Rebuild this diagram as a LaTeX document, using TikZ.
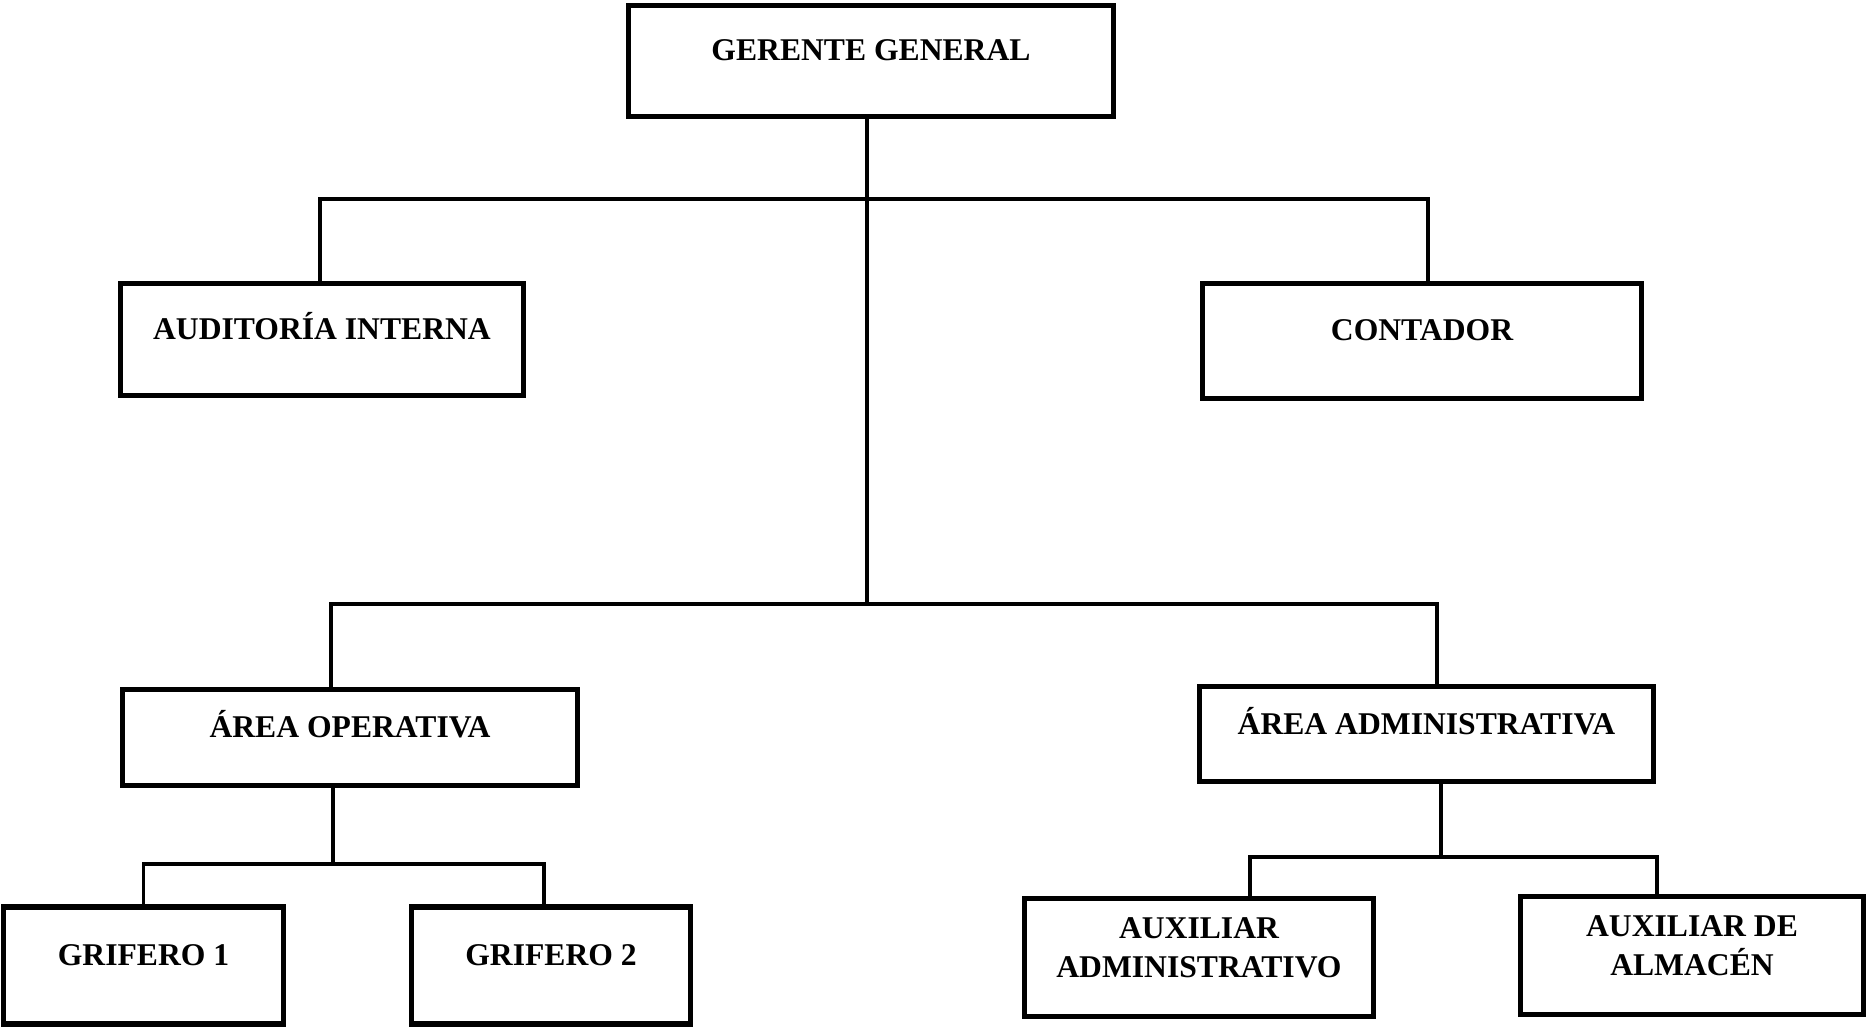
\documentclass[tikz,border=0pt]{standalone}
\usepackage{fontspec}
\setmainfont{Liberation Serif}
\usepackage{tikz}
\usetikzlibrary{positioning}
\pgfdeclarelayer{background}
\pgfdeclarelayer{foreground}
\pgfsetlayers{background,main,foreground}

\begin{document}
\begin{tikzpicture}[
				orgbox/.style={rectangle, draw=black, line width=0.055cm, fill=white, inner sep=0pt,
					font=\bfseries\fontsize{9}{11.2}\selectfont, align=center, text height=0.2cm, text depth=0.2cm},
				twobox/.style={orgbox, text height=0.6cm, text depth=0.2cm},
				link/.style={draw=black, line width=0.035cm},
				]
				\useasboundingbox (0,0) rectangle (18.67,10.27);
				%Nodes
				\node[orgbox, minimum width=4.85cm, minimum height=1.11cm] (gg) at (8.71,9.66)   {GERENTE GENERAL};
				\node[orgbox, minimum width=4.03cm, minimum height=1.12cm] (ai) at (3.22,6.875)  {AUDITORÍA INTERNA};
				\node[orgbox, minimum width=4.39cm, minimum height=1.15cm] (co) at (14.22,6.86)  {CONTADOR};
				\node[orgbox, minimum width=4.55cm, minimum height=0.96cm] (ao) at (3.50,2.895)  {ÁREA OPERATIVA};
				\node[orgbox, minimum width=4.54cm, minimum height=0.95cm] (aa) at (14.265,2.93) {ÁREA ADMINISTRATIVA};
				\node[orgbox, minimum width=2.80cm, minimum height=1.17cm] (g1) at (1.435,0.615) {GRIFERO 1};
				\node[orgbox, minimum width=2.79cm, minimum height=1.17cm] (g2) at (5.51,0.615)  {GRIFERO 2};
				\node[twobox, minimum width=3.49cm, minimum height=1.18cm] (xa) at (11.99,0.695) {AUXILIAR\\ADMINISTRATIVO};
				\node[twobox, minimum width=3.43cm, minimum height=1.18cm] (xl) at (16.92,0.715) {AUXILIAR DE\\ALMACÉN};

				\begin{pgfonlayer}{background}
				%Lines
				\coordinate (t1) at (8.67,8.28);
				\coordinate (t2) at (8.67,4.23);
				\draw[link] (gg.south -| t1) -- (t2);
				\draw[link] ([xshift=-0.02cm]ai.north) |- (t1) -| ([xshift=0.06cm]co.north);
				\draw[link] ([xshift=-0.19cm]ao.north) |- (t2) -| ([xshift=0.105cm]aa.north);

				\coordinate (b1) at (3.33,1.63);
				\coordinate (b2) at (14.41,1.70);
				\draw[link] (ao.south -| b1) -- (b1);
				\draw[link] (g1.north) |- (b1) -| ([xshift=-0.07cm]g2.north);
				\draw[link] (aa.south -| b2) -- (b2);
				\draw[link] ([xshift=0.51cm]xa.north) |- (b2) -| ([xshift=-0.35cm]xl.north);
				\end{pgfonlayer}
			\end{tikzpicture}
\end{document}
